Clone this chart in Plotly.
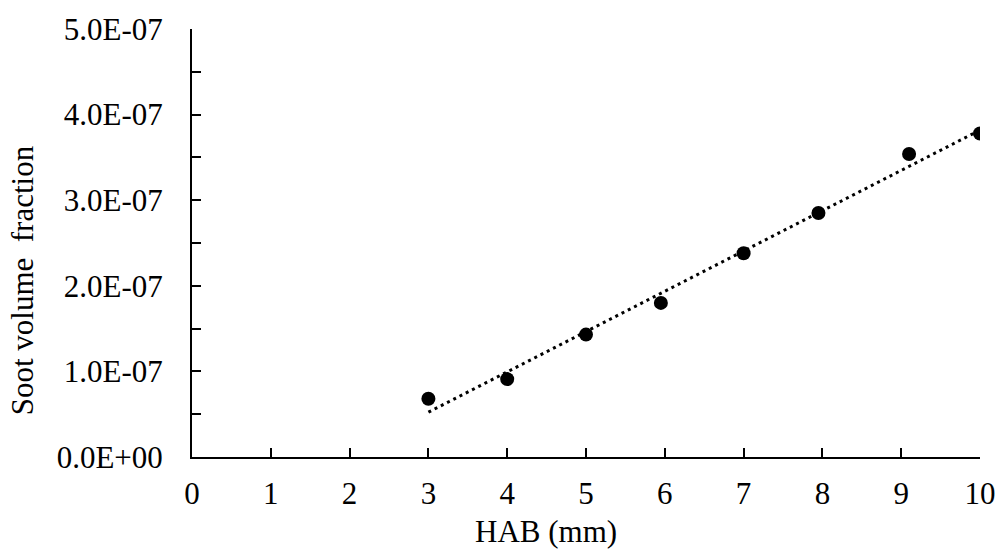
import numpy as np
import plotly.graph_objects as go

# Data
hab_mm = [3.0, 4.0, 5.0, 5.95, 7.0, 7.95, 9.1, 10.0]
soot_fv = [0.68e-7, 0.91e-7, 1.43e-7, 1.80e-7, 2.38e-7, 2.85e-7, 3.54e-7, 3.78e-7]

x_ticks = list(range(0, 11))
y_tick_vals = [0.0, 1e-7, 2e-7, 3e-7, 4e-7, 5e-7]
y_tick_text = ["0.0E+00", "1.0E-07", "2.0E-07", "3.0E-07", "4.0E-07", "5.0E-07"]

# Linear trendline (least squares fit of the data)
slope, intercept = np.polyfit(hab_mm, soot_fv, 1)
trend_x = [min(hab_mm), max(hab_mm)]
trend_y = [slope * v + intercept for v in trend_x]

FONT = "Liberation Serif, Times New Roman, serif"
W, H = 1008, 556
L, R, T, B = 192, 26, 22, 99
pw, ph = W - L - R, H - T - B

fig = go.Figure()
fig.add_trace(go.Scatter(
    x=trend_x, y=trend_y, mode="lines",
    line=dict(color="black", width=3, dash="3px,4px"),
    showlegend=False, hoverinfo="skip"))
fig.add_trace(go.Scatter(
    x=hab_mm, y=soot_fv, mode="markers",
    marker=dict(color="black", size=14),
    showlegend=False))

fig.update_layout(
    width=W, height=H,
    margin=dict(l=L, r=R, t=T, b=B, pad=0),
    paper_bgcolor="white", plot_bgcolor="white",
    font=dict(family=FONT, size=31, color="black"),
    xaxis=dict(
        range=[0, 10], tickvals=x_ticks, ticks="inside", ticklen=9,
        tickwidth=1.5, tickcolor="black", showline=True, linecolor="black",
        linewidth=2, showgrid=False, zeroline=False,
        tickfont=dict(family=FONT, size=31, color="black"),
        ticklabelstandoff=8),
    yaxis=dict(
        range=[0, 5e-7], tickvals=y_tick_vals, ticktext=y_tick_text,
        ticks="inside", ticklen=9, tickwidth=1.5, tickcolor="black",
        showline=True, linecolor="black", linewidth=2,
        showgrid=False, zeroline=False,
        minor=dict(tickvals=[0.5e-7, 1.5e-7, 2.5e-7, 3.5e-7, 4.5e-7],
                   ticks="inside", ticklen=9, tickwidth=1.5, tickcolor="black",
                   showgrid=False),
        tickfont=dict(family=FONT, size=31, color="black"),
        ticklabelstandoff=21),
    annotations=[
        dict(text="HAB (mm)", xref="paper", yref="paper",
             x=(547 - L) / pw, y=-(533 - (H - B)) / ph,
             xanchor="center", yanchor="middle", showarrow=False,
             font=dict(family=FONT, size=31, color="black")),
        dict(text="Soot volume  fraction", xref="paper", yref="paper",
             x=(22 - L) / pw, y=((H - B) - 277) / ph, textangle=-90,
             xanchor="center", yanchor="middle", showarrow=False,
             font=dict(family=FONT, size=31, color="black")),
    ],
)

fig.write_html("out.html")
